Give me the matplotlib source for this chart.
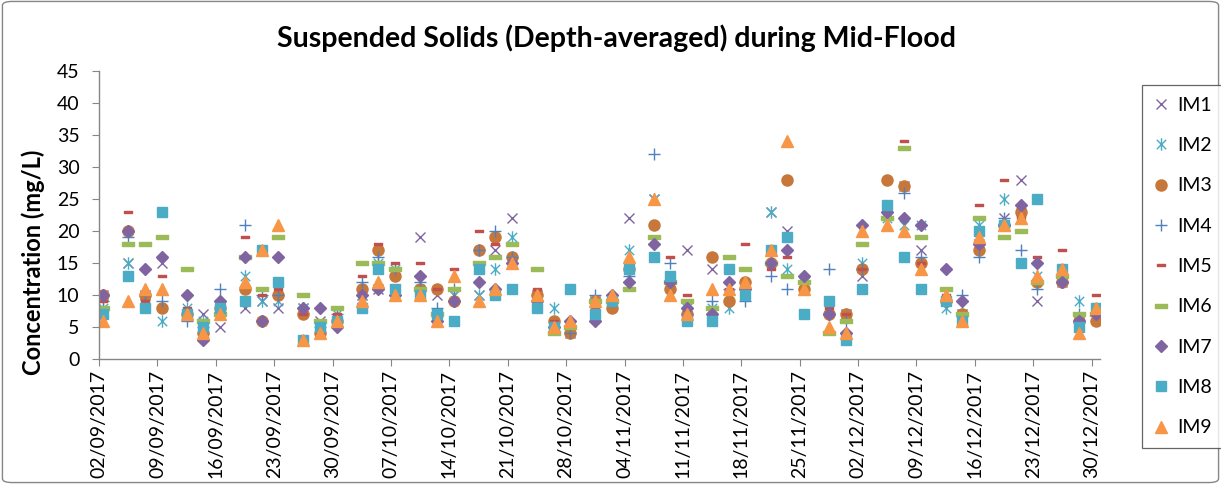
import matplotlib
matplotlib.use("Agg")
import matplotlib.pyplot as plt
import matplotlib.dates as mdates
from matplotlib.path import Path
from matplotlib.patches import FancyBboxPatch
import numpy as np
import pandas as pd

plt.rcParams["font.family"] = ["Lato", "DejaVu Sans"]

# sampling dates (Sat / Tue / Thu)
dates = [
    "2017-09-02", "2017-09-05", "2017-09-07", "2017-09-09", "2017-09-12", "2017-09-14", "2017-09-16",
    "2017-09-19", "2017-09-21", "2017-09-23", "2017-09-26", "2017-09-28", "2017-09-30",
    "2017-10-03", "2017-10-05", "2017-10-07", "2017-10-10", "2017-10-12", "2017-10-14",
    "2017-10-17", "2017-10-19", "2017-10-21", "2017-10-24", "2017-10-26", "2017-10-28",
    "2017-10-31", "2017-11-02", "2017-11-04", "2017-11-07", "2017-11-09", "2017-11-11",
    "2017-11-14", "2017-11-16", "2017-11-18", "2017-11-21", "2017-11-23", "2017-11-25",
    "2017-11-28", "2017-11-30", "2017-12-02", "2017-12-05", "2017-12-07", "2017-12-09",
    "2017-12-12", "2017-12-14", "2017-12-16", "2017-12-19", "2017-12-21", "2017-12-23",
    "2017-12-26", "2017-12-28", "2017-12-30",
]

im1 = [10, 15, 10, 15, 7, 7, 5, 8, 9, 8, 8, 6, 6, 10, 11, 11, 19, 10, 10, 10, 17, 22, 10, 5, 4,
       9, 9, 22, 25, 12, 17, 14, 10, 10, 23, 20, 12, 8, 7, 13, 23, 27, 17, 9, 7, 18, 22, 28, 9, 12, 6, 7]
im2 = [8, 15, 10, 6, 8, 6, 8, 13, 9, 9, 8, 5, 7, 10, 15, 14, 11, 7, 10, 10, 14, 19, 10, 8, 5,
       9, 9, 17, 25, 12, 8, 8, 8, 10, 23, 14, 12, 8, 7, 15, 22, 21, 21, 8, 7, 21, 25, 23, 13, 13, 9, 7]
im3 = [10, 20, 10, 8, 7, 4, 8, 11, 6, 10, 7, 4, 6, 11, 17, 13, 11, 11, 9, 17, 19, 16, 10, 6, 4,
       9, 8, 14, 21, 11, 7, 16, 9, 12, 15, 28, 11, 7, 7, 14, 28, 27, 15, 9, 7, 17, 21, 23, 12, 12, 6, 6]
im4 = [9, 19, 10, 9, 6, 5, 11, 21, 10, 10, 8, 5, 7, 12, 16, 14, 12, 8, 11, 17, 20, 16, 9, 5, 4,
       10, 9, 13, 32, 15, 7, 9, 11, 9, 13, 11, 12, 14, 6, 14, 22, 26, 16, 9, 10, 16, 22, 17, 11, 13, 7, 7]
im5 = [9, 23, 9, 13, 8, 4, 8, 19, 10, 11, 7, 4, 7, 13, 18, 15, 15, 11, 14, 20, 18, 15, 11, 6, 5,
       8, 9, 14, 19, 16, 10, 8, 11, 18, 14, 16, 12, 8, 7, 14, 22, 34, 15, 10, 7, 24, 28, 22, 16, 17, 6, 10]
im6 = [8, 18, 18, 19, 14, 6, 7, 16, 11, 19, 10, 6, 8, 15, 15, 14, 11, 7, 11, 15, 16, 18, 14, 4, 5,
       9, 9, 11, 19, 12, 9, 8, 16, 14, 15, 13, 12, 4, 6, 18, 22, 33, 19, 11, 7, 22, 19, 20, 12, 13, 7, 7]
im7 = [10, 20, 14, 16, 10, 3, 9, 16, 6, 16, 8, 8, 5, 10, 11, 10, 13, 6, 9, 12, 11, 15, 9, 5, 6,
       6, 10, 12, 18, 12, 8, 7, 12, 11, 15, 17, 13, 7, 4, 21, 23, 22, 21, 14, 9, 18, 21, 24, 15, 12, 6, 7]
im8 = [7, 13, 8, 23, 7, 5, 8, 9, 17, 12, 3, 5, 6, 8, 14, 11, 10, 7, 6, 14, 10, 11, 8, 5, 11,
       7, 9, 14, 16, 13, 6, 6, 14, 10, 17, 19, 7, 9, 3, 11, 24, 16, 11, 9, 6, 20, 21, 15, 25, 14, 5, 8]
im9 = [6, 9, 11, 11, 7, 4, 7, 12, 17, 21, 3, 4, 6, 9, 12, 10, 10, 6, 13, 9, 11, 15, 10, 5, 6,
       9, 10, 16, 25, 10, 7, 11, 11, 12, 17, 34, 11, 5, 4, 20, 21, 20, 14, 10, 6, 19, 21, 22, 13, 14, 4, 8]

labels = ["IM1", "IM2", "IM3", "IM4", "IM5", "IM6", "IM7", "IM8", "IM9"]
series = [im1, im2, im3, im4, im5, im6, im7, im8, im9]

# marker shapes in the Excel style
asterisk = Path(
    [(0, -1), (0, 1), (-0.75, -0.75), (0.75, 0.75), (-0.75, 0.75), (0.75, -0.75)],
    [Path.MOVETO, Path.LINETO, Path.MOVETO, Path.LINETO, Path.MOVETO, Path.LINETO],
)
bar = Path([(-1, -0.3), (1, -0.3), (1, 0.3), (-1, 0.3), (-1, -0.3)],
           [Path.MOVETO, Path.LINETO, Path.LINETO, Path.LINETO, Path.CLOSEPOLY])

styles = [
    dict(marker="x", color="#8064A2", ms=7, mew=1.0),
    dict(marker=asterisk, color="#4BACC6", ms=9, mew=1.0, mfc="none"),
    dict(marker="o", color="#C8773A", ms=8),
    dict(marker="+", color="#4F81BD", ms=9, mew=1.0),
    dict(marker=bar, color="#C0504D", ms=5.5),
    dict(marker=bar, color="#9BBB59", ms=9),
    dict(marker="D", color="#8064A2", ms=6.5),
    dict(marker="s", color="#4BACC6", ms=7.5),
    dict(marker="^", color="#F79646", ms=8.5),
]

x = pd.to_datetime(dates) + pd.Timedelta(hours=12)

fig = plt.figure(figsize=(12.21, 4.84), dpi=100)
ax = fig.add_axes([99 / 1221, 1 - 359 / 484, 1001 / 1221, 288 / 484])

for lab, vals, st in zip(labels, series, styles):
    kw = dict(st)
    col = kw.pop("color")
    ax.plot(x, vals, linestyle="none", color=col, mec=col,
            mfc=kw.pop("mfc", col), label=lab, **kw)

ax.set_ylim(0, 45)
ax.set_yticks(np.arange(0, 46, 5))
ax.set_xlim(pd.Timestamp("2017-09-02"), pd.Timestamp("2017-12-31"))
ax.set_xticks(pd.date_range("2017-09-02", "2017-12-30", freq="7D"))
ax.xaxis.set_major_formatter(mdates.DateFormatter("%d/%m/%Y"))
for lbl in ax.get_xticklabels():
    lbl.set_rotation(90)

for side in ("top", "right"):
    ax.spines[side].set_visible(False)
for side in ("left", "bottom"):
    ax.spines[side].set_color("#868686")
    ax.spines[side].set_linewidth(1.0)
ax.tick_params(axis="both", direction="out", color="#868686", length=5,
               labelsize=14, labelcolor="black")
ax.tick_params(axis="y", pad=9)
ax.tick_params(axis="x", pad=3)

ax.set_ylabel("Concentration (mg/L)", fontsize=17, fontweight="bold")
ax.yaxis.set_label_coords(-0.054, 0.337)
fig.text(0.505, 1 - 38 / 484, "Suspended Solids (Depth-averaged) during Mid-Flood",
         ha="center", va="center", fontsize=20.5, fontweight="bold")

leg = fig.legend(loc="upper left", bbox_to_anchor=(1142 / 1221, 1 - 85 / 484),
                 frameon=True, fancybox=False, fontsize=14, labelspacing=1.2,
                 handlelength=0.8, handletextpad=0.4, borderpad=0.6,
                 borderaxespad=0, numpoints=1)
leg.get_frame().set_edgecolor("#404040")
leg.get_frame().set_linewidth(0.9)

fig.patches.append(FancyBboxPatch((0.002, 0.003), 0.996, 0.994,
                                  boxstyle="round,pad=0,rounding_size=0.008",
                                  transform=fig.transFigure, fill=False,
                                  edgecolor="#868686", linewidth=1.0))

fig.savefig("out.png", dpi=100)
